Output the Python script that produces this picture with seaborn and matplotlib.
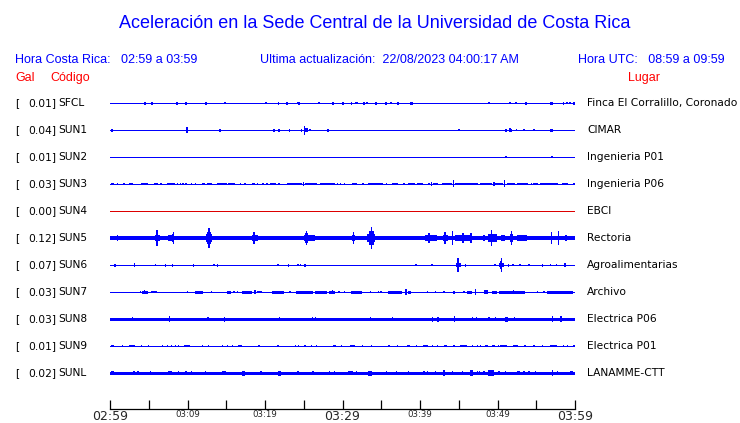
import matplotlib
matplotlib.use("Agg")
import matplotlib.pyplot as plt
import seaborn as sns
import pandas as pd

# ---------------- data ----------------
TITLE = "Aceleración en la Sede Central de la Universidad de Costa Rica"
HORA_CR = "Hora Costa Rica:   02:59 a 03:59"
ULTIMA = "Ultima actualización:  22/08/2023 04:00:17 AM"
HORA_UTC = "Hora UTC:   08:59 a 09:59"

codes = ["SFCL", "SUN1", "SUN2", "SUN3", "SUN4", "SUN5", "SUN6", "SUN7", "SUN8", "SUN9", "SUNL"]
gal = [0.01, 0.04, 0.01, 0.03, 0.00, 0.12, 0.07, 0.03, 0.03, 0.01, 0.02]
places = ["Finca El Corralillo, Coronado", "CIMAR", "Ingenieria P01", "Ingenieria P06", "EBCI",
          "Rectoria", "Agroalimentarias", "Archivo", "Electrica P06", "Electrica P01", "LANAMME-CTT"]
# background noise half-width of each trace (pixels)
base_noise = [0.5, 0.5, 0.5, 0.5, 0.5, 1.55, 0.5, 0.5, 1.5, 0.5, 1.5]
active = [True, True, True, True, False, True, True, True, True, True, True]

tick_minutes = list(range(0, 61, 5))
tick_labels = ["02:59", "", "03:09", "", "03:19", "", "03:29", "", "03:39", "", "03:49", "", "03:59"]
big_labels = ["02:59", "03:29", "03:59"]

# events: (start minute, end minute, half amplitude in px)
ev_SFCL = [(4.43, 4.43, 1.3), (5.3, 5.5, 1.3), (8.56, 8.56, 1.3), (9.72, 9.72, 1.3), (12.30, 12.30, 1.3),
           (14.75, 14.9, 0.8), (20.04, 20.04, 0.7), (21.7, 21.85, 1.3), (22.75, 22.75, 1.3), (24.09, 24.09, 0.8),
           (24.30, 24.30, 1.3), (26.88, 26.88, 0.7), (28.69, 28.69, 1.3), (29.98, 29.98, 1.3), (31.05, 31.25, 1.3),
           (31.57, 31.57, 1.0), (31.78, 31.78, 1.0), (32.69, 32.69, 1.3), (33.08, 33.08, 1.0), (34.24, 34.24, 1.3),
           (35.53, 35.53, 1.3), (36.17, 36.17, 1.0), (37.08, 37.08, 1.3), (38.75, 38.75, 1.3), (38.92, 38.92, 1.3),
           (48.82, 48.82, 0.7), (51.53, 51.53, 1.0), (52.30, 52.30, 1.0), (53.59, 53.59, 1.3), (56.8, 57.2, 1.3),
           (58.4, 58.6, 1.3), (58.88, 58.88, 1.0), (59.27, 59.27, 0.7), (59.7, 59.95, 1.3)]
ev_SUN1 = [(0.17, 0.17, 1.3), (9.85, 9.85, 2.7), (14.11, 14.11, 1.3), (21.08, 21.08, 1.3), (21.72, 21.72, 1.3),
           (23.1, 23.25, 1.3), (24.65, 24.8, 1.3), (25.0, 25.15, 4.3), (25.2, 25.6, 1.7), (25.72, 25.72, 1.0),
           (28.04, 28.04, 1.3), (44.95, 44.95, 0.7), (51.01, 51.01, 1.3), (51.53, 51.53, 2.0), (51.75, 51.9, 1.3),
           (52.4, 52.55, 1.0), (53.33, 53.33, 1.0), (54.62, 54.62, 1.0), (56.8, 57.2, 1.3)]
ev_SUN2 = [(51.01, 51.01, 0.7), (56.95, 57.1, 1.0)]
ev_SUN3 = [(0.13, 0.47, 1.0), (0.86, 0.86, 0.7), (1.72, 1.72, 0.7), (2.49, 3.01, 1.0), (4.0, 4.86, 1.0),
           (5.68, 6.24, 1.0), (6.45, 6.75, 0.8), (7.31, 8.39, 1.0), (8.6, 8.6, 0.7), (9.03, 9.03, 1.0),
           (9.33, 9.33, 0.7), (9.68, 9.89, 1.0), (10.45, 10.45, 1.0), (10.97, 10.97, 0.7), (11.87, 12.26, 0.8),
           (12.47, 13.12, 1.0), (13.76, 15.05, 1.0), (15.27, 16.13, 0.8), (16.77, 16.77, 0.7), (17.33, 17.33, 0.7),
           (18.28, 18.71, 1.0), (18.92, 19.14, 0.8), (19.66, 19.66, 0.7), (20.17, 20.17, 0.7), (20.65, 21.38, 1.0),
           (21.72, 21.98, 1.0), (22.8, 24.73, 1.0), (24.85, 24.95, 2.0), (25.16, 26.67, 1.0), (27.1, 29.03, 1.0),
           (29.25, 29.25, 0.7), (29.68, 29.68, 0.7), (30.19, 30.19, 0.7), (31.18, 31.83, 0.8), (32.56, 32.56, 0.7),
           (33.33, 35.27, 1.0), (35.57, 35.57, 0.7), (36.34, 37.2, 1.0), (37.85, 37.85, 0.7), (38.49, 39.35, 1.0),
           (39.57, 40.43, 1.0), (41.08, 41.29, 1.0), (41.42, 41.42, 1.7), (41.72, 42.37, 1.0), (42.8, 44.09, 1.0),
           (44.26, 44.26, 3.3), (44.52, 47.53, 1.0), (47.74, 49.25, 1.0), (49.46, 49.46, 2.0), (49.68, 50.75, 1.0),
           (50.85, 50.97, 3.3), (51.18, 52.26, 1.0), (52.47, 53.98, 1.0), (54.32, 54.32, 0.7), (54.62, 54.62, 0.7),
           (54.84, 55.27, 0.8), (55.48, 57.85, 1.0), (58.28, 59.14, 1.0), (59.78, 59.78, 0.7)]
ev_SUN4 = []
ev_SUN5 = [(0.86, 0.86, 2.5), (2.58, 3.01, 2.0), (3.53, 3.53, 2.0), (5.81, 6.45, 3.0), (5.9, 6.2, 5.0),
           (5.98, 6.08, 8.0), (6.67, 7.31, 2.0), (7.53, 8.3, 2.5), (8.0, 8.25, 4.0), (8.12, 8.22, 6.0),
           (9.25, 9.25, 1.8), (10.75, 10.75, 1.8), (12.34, 13.2, 3.5), (12.5, 13.0, 6.0), (12.7, 12.9, 10.0),
           (14.62, 14.62, 1.8), (16.34, 16.34, 1.8), (18.32, 19.14, 3.0), (18.45, 18.7, 6.0), (23.35, 23.35, 2.0),
           (24.99, 26.45, 2.5), (25.1, 25.6, 4.5), (25.25, 25.4, 7.0), (28.17, 28.82, 1.8), (31.27, 31.61, 3.0),
           (31.38, 31.5, 6.0), (33.2, 34.19, 4.0), (33.4, 34.0, 7.0), (33.62, 33.8, 11.0), (35.05, 37.42, 1.8),
           (37.98, 37.98, 1.8), (38.75, 38.75, 1.8), (39.35, 39.35, 1.8), (39.57, 40.22, 2.2), (40.65, 42.15, 2.5),
           (41.05, 41.25, 5.0), (43.01, 43.66, 3.0), (43.15, 43.3, 5.5), (44.09, 44.3, 7.0), (44.52, 46.67, 2.5),
           (45.45, 45.55, 5.0), (46.5, 46.6, 5.0), (48.09, 48.39, 2.5), (48.82, 49.89, 3.5), (49.15, 49.35, 8.0),
           (50.45, 50.97, 3.0), (51.61, 52.04, 4.0), (51.75, 51.9, 7.0), (52.47, 53.76, 2.5), (54.62, 54.62, 1.8),
           (55.7, 55.96, 2.0), (56.34, 58.28, 2.2), (56.85, 56.95, 6.0), (57.8, 57.9, 7.0), (58.71, 58.92, 3.0),
           (59.57, 60.0, 2.0)]
ev_SUN6 = [(0.56, 0.56, 1.3), (3.1, 3.1, 2.0), (5.81, 5.81, 0.8), (7.1, 7.25, 1.3), (7.96, 8.17, 1.3),
           (10.72, 10.88, 1.3), (13.33, 13.33, 1.0), (13.82, 13.96, 1.3), (21.59, 21.59, 1.0), (22.98, 23.12, 1.3),
           (24.17, 24.17, 1.0), (24.47, 24.47, 1.0), (24.99, 25.25, 1.3), (39.4, 39.4, 1.0), (41.46, 41.46, 0.7),
           (44.6, 45.3, 2.0), (44.75, 45.0, 4.0), (44.82, 44.9, 6.5), (45.75, 45.88, 1.3), (49.59, 49.59, 1.0),
           (50.2, 50.8, 2.0), (50.38, 50.6, 4.0), (50.45, 50.53, 7.0), (51.32, 51.48, 1.3), (51.91, 51.91, 1.0),
           (52.82, 52.82, 1.0), (53.98, 53.98, 1.0), (55.72, 55.88, 1.3), (56.77, 56.77, 1.0), (57.51, 57.51, 1.0),
           (58.6, 58.8, 2.0)]
ev_SUN7 = [(3.87, 3.87, 0.7), (4.17, 4.95, 1.3), (4.4, 4.47, 2.0), (5.29, 6.02, 1.0), (9.89, 9.89, 0.7),
           (10.97, 12.04, 1.3), (13.03, 13.03, 0.7), (15.14, 15.61, 1.3), (15.91, 15.91, 1.0), (16.39, 16.39, 1.0),
           (16.99, 18.28, 1.3), (18.62, 18.62, 2.0), (18.92, 19.57, 1.0), (20.86, 22.41, 1.3), (23.14, 23.14, 0.7),
           (23.96, 26.24, 1.3), (26.45, 27.96, 1.3), (28.26, 29.03, 1.3), (28.6, 28.7, 2.0), (29.46, 29.46, 1.0),
           (30.19, 30.19, 1.0), (31.1, 32.47, 1.3), (33.55, 33.55, 1.0), (34.54, 34.54, 1.0), (34.88, 34.88, 1.0),
           (35.91, 37.63, 1.3), (38.1, 38.3, 3.0), (38.49, 38.84, 1.3), (40.86, 40.86, 0.7), (41.94, 41.94, 1.0),
           (43.01, 43.01, 1.0), (44.22, 44.52, 1.3), (45.59, 45.59, 0.7), (46.02, 46.67, 1.3), (47.1, 47.25, 2.5),
           (48.26, 48.82, 1.7), (49.25, 49.89, 1.3), (50.24, 53.55, 1.3), (51.95, 52.05, 2.0), (55.05, 55.05, 0.7),
           (55.91, 55.91, 1.0), (56.34, 59.78, 1.3)]
ev_SUN8 = [(2.8, 2.8, 2.2), (7.61, 7.61, 2.7), (12.56, 12.56, 2.0), (14.71, 14.71, 2.3), (21.76, 21.76, 2.2),
           (26.02, 26.02, 2.2), (26.45, 26.45, 2.2), (33.55, 33.55, 2.0), (36.34, 36.34, 2.0), (41.51, 41.51, 2.3),
           (42.24, 42.24, 2.3), (44.34, 44.34, 2.5), (46.67, 46.67, 2.2), (47.23, 47.23, 2.0), (48.82, 48.82, 2.0),
           (49.68, 49.68, 2.2), (50.97, 51.4, 2.3), (52.09, 52.09, 2.0), (56.99, 56.99, 3.0), (58.11, 58.11, 2.5)]
ev_SUN9 = [(0.13, 0.56, 1.0), (1.51, 1.51, 0.7), (2.45, 3.23, 0.8), (4.0, 4.0, 0.7), (4.86, 4.86, 0.7),
           (6.67, 6.67, 0.7), (7.31, 7.31, 0.7), (7.87, 7.87, 1.0), (8.39, 8.39, 0.7), (8.73, 8.73, 0.7),
           (9.59, 10.32, 0.8), (11.83, 11.83, 0.7), (12.6, 12.6, 0.7), (14.41, 14.62, 1.0), (15.05, 15.05, 0.7),
           (15.7, 15.7, 0.7), (16.47, 17.08, 1.0), (19.14, 19.14, 0.7), (21.51, 21.81, 0.8), (23.87, 23.87, 0.7),
           (24.22, 24.22, 0.7), (25.03, 25.29, 1.0), (25.94, 25.94, 0.8), (26.54, 26.54, 0.7), (28.82, 29.16, 1.0),
           (29.81, 29.81, 0.7), (30.97, 31.61, 0.8), (32.47, 32.47, 0.7), (33.68, 33.68, 0.7), (35.91, 36.13, 0.8),
           (36.99, 36.99, 0.7), (38.28, 38.71, 0.8), (39.44, 39.44, 0.7), (40.43, 40.99, 1.0), (41.51, 41.51, 0.7),
           (42.15, 42.15, 0.7), (43.14, 43.44, 0.8), (44.3, 44.52, 1.0), (45.16, 46.02, 1.0), (46.67, 46.67, 0.7),
           (47.31, 47.31, 0.7), (47.74, 47.74, 0.7), (48.39, 48.82, 0.8), (49.25, 49.68, 1.0), (50.02, 50.02, 0.7),
           (50.32, 51.18, 1.0), (52.04, 52.69, 0.8), (53.46, 53.46, 0.7), (54.62, 54.62, 0.7), (55.7, 55.91, 0.8),
           (56.77, 57.63, 0.8), (58.41, 58.41, 0.7), (58.92, 58.92, 0.7), (59.78, 59.78, 0.7)]
ev_SUNL = [(0.13, 0.56, 2.2), (2.92, 3.23, 2.2), (3.53, 3.53, 2.0), (5.16, 5.16, 2.0), (7.53, 7.96, 2.2),
           (8.73, 8.73, 2.0), (9.68, 9.89, 2.0), (10.45, 10.45, 2.0), (12.26, 12.26, 2.0), (14.49, 14.92, 2.2),
           (16.99, 17.42, 2.3), (19.35, 19.57, 2.2), (21.72, 22.02, 2.3), (24.17, 24.39, 2.2), (26.02, 26.37, 2.2),
           (28.26, 28.26, 2.0), (28.86, 28.86, 2.0), (30.67, 31.4, 2.2), (31.7, 31.7, 2.0), (33.33, 33.76, 2.3),
           (35.61, 35.61, 2.0), (36.9, 36.9, 2.0), (38.41, 38.41, 2.0), (40.43, 40.43, 2.0), (40.86, 40.86, 2.0),
           (41.94, 41.94, 2.0), (43.0, 43.1, 2.5), (44.09, 44.09, 2.0), (45.38, 45.59, 2.2), (46.45, 46.88, 2.5),
           (47.31, 47.31, 2.0), (47.61, 47.61, 2.0), (48.17, 48.17, 2.0), (48.82, 49.59, 2.5), (50.11, 50.32, 2.2),
           (50.97, 50.97, 2.0), (52.47, 52.47, 2.0), (52.69, 52.69, 2.0), (53.33, 53.33, 2.0), (53.98, 53.98, 2.0),
           (54.84, 54.84, 2.0), (56.99, 57.2, 2.5), (57.63, 57.63, 2.0), (59.35, 59.78, 2.2)]
events = [ev_SFCL, ev_SUN1, ev_SUN2, ev_SUN3, ev_SUN4, ev_SUN5, ev_SUN6, ev_SUN7, ev_SUN8, ev_SUN9, ev_SUNL]

# ---------------- layout ----------------
W, H, DPI = 740, 423, 100
BLUE = "#0000ff"
RED_TXT = "#ff0000"
RED_TRACE = "#dd0000"
ROW0, ROW_STEP = 103, 27
X0, X1 = 110, 575
Y_TOP, Y_BOT = 90, 409
px = 60.0 / (X1 - X0)  # one pixel in minutes

sns.set_theme(style="white")
plt.rcParams["font.family"] = ["Liberation Sans", "DejaVu Sans"]

fig = plt.figure(figsize=(W / DPI, H / DPI), dpi=DPI)
fig.patch.set_facecolor("white")
ax = fig.add_axes([X0 / W, 1 - Y_BOT / H, (X1 - X0) / W, (Y_BOT - Y_TOP) / H])
ax.set_facecolor("white")

rows_y = [ROW0 + ROW_STEP * i for i in range(len(codes))]
colors = [BLUE if a else RED_TRACE for a in active]

# thin baselines through seaborn (1 px)
base_df = pd.DataFrame({
    "t": [0.0, 60.0] * len(codes),
    "y": [y for y in rows_y for _ in range(2)],
    "code": [c for c in codes for _ in range(2)],
})
palette = {c: col for c, col in zip(codes, colors)}
sns.lineplot(data=base_df, x="t", y="y", hue="code", palette=palette, units="code", estimator=None,
             legend=False, ax=ax, linewidth=72 / DPI, solid_capstyle="butt", antialiased=False, zorder=0.5)

# noise band + events as bars
for y, col, n, evs in zip(rows_y, colors, base_noise, events):
    if n > 0.5:
        ax.bar(0, 2 * n, width=60, bottom=y - n, align="edge", color=col, linewidth=0,
               antialiased=False, zorder=1)
    for s, e, a in evs:
        w = max(e - s, 1.3 * px)
        ax.bar(s, 2 * a + 0.4, width=w, bottom=y - a - 0.2, align="edge", color=col, linewidth=0,
               antialiased=False, zorder=1)

ax.set_xlim(0, 60)
ax.set_ylim(Y_BOT, Y_TOP)
for sp in ["top", "left", "right"]:
    ax.spines[sp].set_visible(False)
ax.spines["bottom"].set_color("black")
ax.spines["bottom"].set_linewidth(0.9)
ax.set_yticks([])
ax.set_xticks(tick_minutes)
ax.set_xticklabels(tick_labels, family="DejaVu Sans")
ax.tick_params(axis="x", direction="in", length=6.5, width=0.9, color="black", pad=0.5, bottom=True)
for lab in ax.get_xticklabels():
    if lab.get_text() in big_labels:
        lab.set_fontsize(9)
    else:
        lab.set_fontsize(6.2)
ax.set_xlabel("")
ax.set_ylabel("")


def ftext(x, y, s, **kw):
    fig.text(x / W, 1 - y / H, s, **kw)


ftext(375, 23, TITLE, ha="center", va="center", color=BLUE, fontsize=13)
ftext(15, 60, HORA_CR, ha="left", va="center", color=BLUE, fontsize=9)
ftext(260, 60, ULTIMA, ha="left", va="center", color=BLUE, fontsize=9)
ftext(725, 60, HORA_UTC, ha="right", va="center", color=BLUE, fontsize=9)
ftext(15, 78, "Gal", ha="left", va="center", color=RED_TXT, fontsize=9)
ftext(50, 78, "Código", ha="left", va="center", color=RED_TXT, fontsize=9)
ftext(660, 78, "Lugar", ha="right", va="center", color=RED_TXT, fontsize=9)

for y, g, c, p in zip(rows_y, gal, codes, places):
    ftext(15, y, "[", ha="left", va="center", color="black", fontsize=7.7, family="DejaVu Sans")
    ftext(56, y, f"{g:.2f}]", ha="right", va="center", color="black", fontsize=7.7, family="DejaVu Sans")
    ftext(58, y, c, ha="left", va="center", color="black", fontsize=7.7, family="DejaVu Sans")
    ftext(587, y, p, ha="left", va="center", color="black", fontsize=7.7, family="DejaVu Sans")

fig.savefig("out.png", dpi=DPI, facecolor="white")
